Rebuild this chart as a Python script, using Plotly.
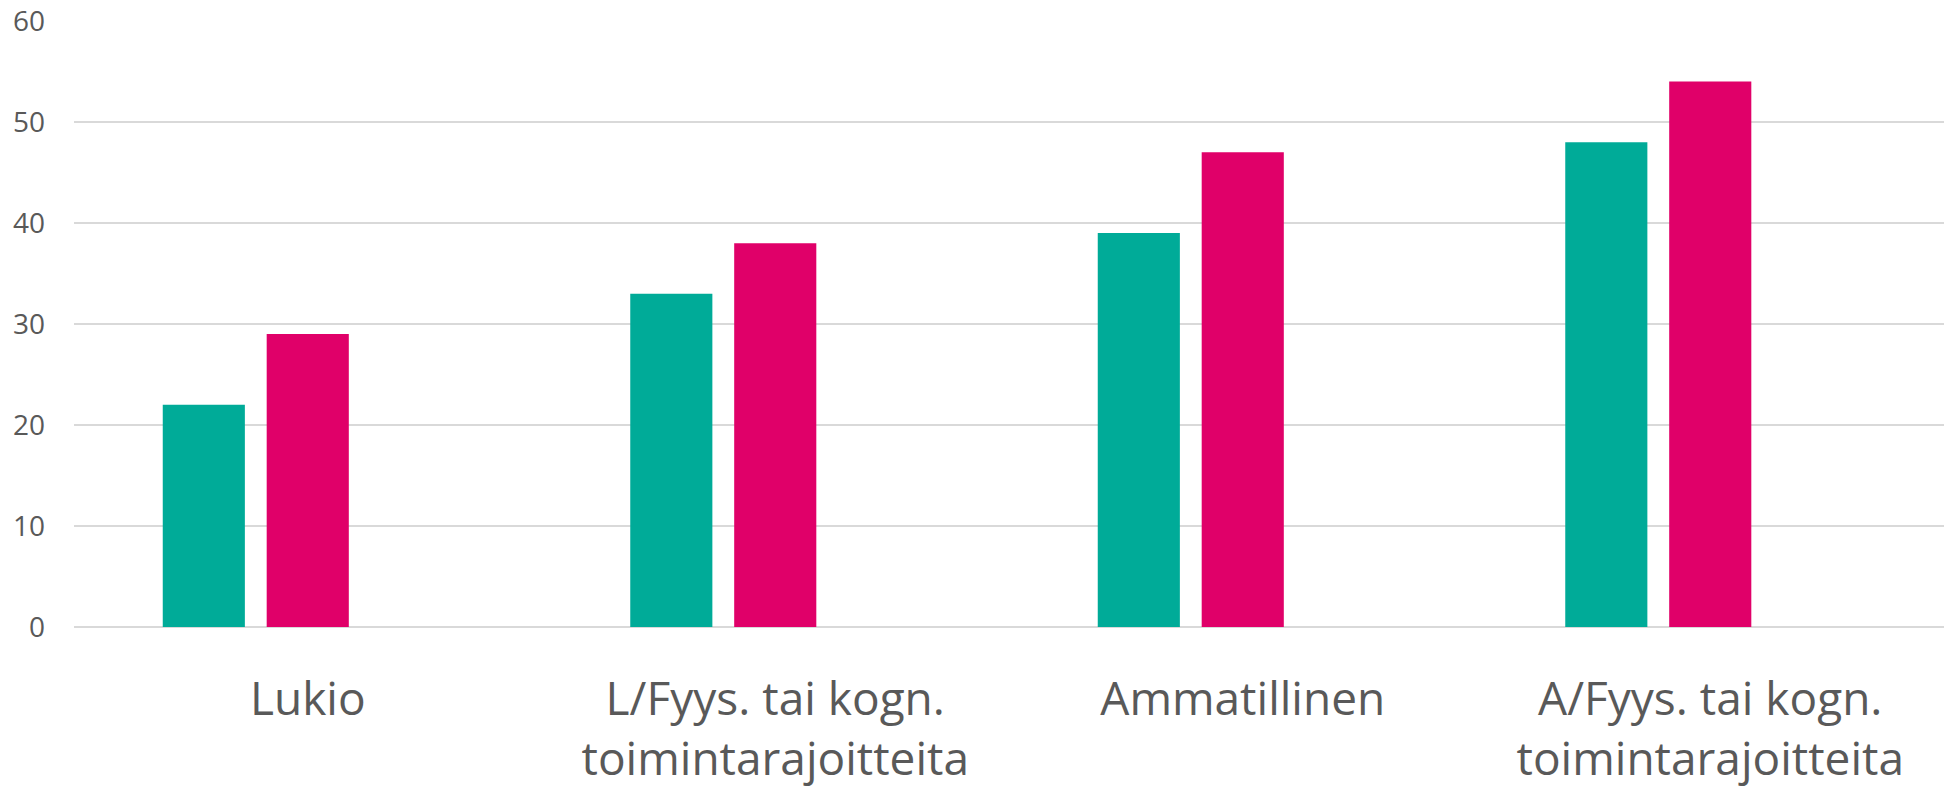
import plotly.graph_objects as go

categories = ["Lukio", "L/Fyys. tai kogn.<br>toimintarajoitteita", "Ammatillinen",
              "A/Fyys. tai kogn.<br>toimintarajoitteita"]
series_a = [22, 33, 39, 48]
series_b = [29, 38, 47, 54]
series_c = [None, None, None, None]  # empty third series slot
y_ticks = [0, 10, 20, 30, 40, 50, 60]

fig = go.Figure()
fig.add_bar(x=categories, y=series_a, marker_color="#00AB98", marker_line_width=0, name="A")
fig.add_bar(x=categories, y=series_b, marker_color="#E00069", marker_line_width=0, name="B")
fig.add_bar(x=categories, y=series_c, marker_color="#999999", marker_line_width=0, name="C")

fig.update_layout(
    width=1944, height=787,
    margin=dict(l=74, r=0, t=21, b=160),
    paper_bgcolor="white", plot_bgcolor="white",
    barmode="group", bargap=0.333, bargroupgap=0.21,
    showlegend=False,
    font=dict(family="Open Sans", color="#595959"),
)
fig.update_yaxes(range=[0, 60], tickvals=y_ticks, showgrid=True, gridcolor="#d9d9d9", gridwidth=2,
                 zeroline=True, zerolinecolor="#d9d9d9", zerolinewidth=2, showline=False,
                 tickfont=dict(size=28, color="#595959"), ticks="", ticklabelstandoff=28)
fig.update_xaxes(showline=False, ticks="", tickfont=dict(size=46, color="#595959"),
                 ticklabelstandoff=41, tickangle=0)

fig.write_html("out.html")
